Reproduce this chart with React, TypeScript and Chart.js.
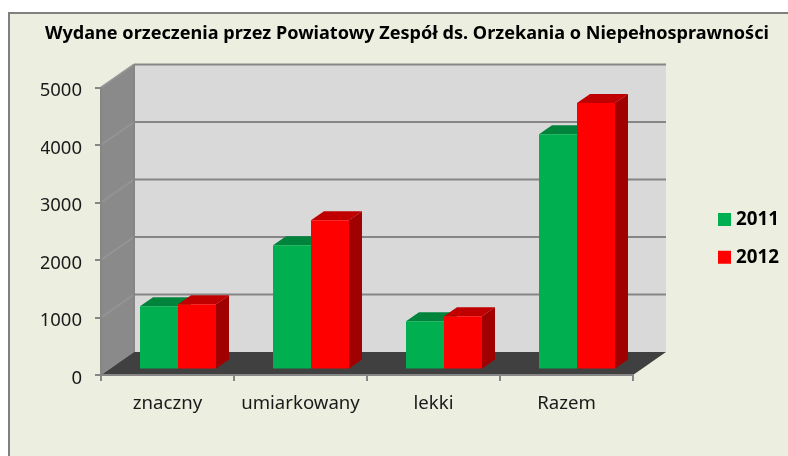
import React, { useEffect, useRef } from "react";
import { Chart, registerables } from "chart.js";

Chart.register(...registerables);

const categories = ["znaczny", "umiarkowany", "lekki", "Razem"];
const seriesNames = ["2011", "2012"];
const values2011 = [1099, 2162, 840, 4092];
const values2012 = [1135, 2597, 927, 4637];
const titleText = "Wydane orzeczenia przez Powiatowy Zespół ds. Orzekania o Niepełnosprawności";

const FRONT = ["#00b050", "#ff0000"];
const TOP = ["#00843c", "#c00000"];
const SIDE = ["#006c32", "#a00000"];
const GRID = "#868686";
const FONT = "'Noto Sans'";

const WALL_DX = 33;
const WALL_DY = -23;
const BAR_SHIFT_X = 10.5;
const BAR_SHIFT_Y = -5.5;
const BAR_DX = 13;
const BAR_DY = -9;

const poly = (ctx: CanvasRenderingContext2D, pts: number[][], fill: string) => {
  ctx.beginPath();
  pts.forEach(([x, y], i) => (i ? ctx.lineTo(x, y) : ctx.moveTo(x, y)));
  ctx.closePath();
  ctx.fillStyle = fill;
  ctx.fill();
};

const scene3d = {
  id: "scene3d",
  afterLayout(chart: any) {
    const t = chart.titleBlock;
    t.left = 45;
    t.right = 788;
    const l = chart.legend;
    l.left = 703.5;
    l.right = 788;
    l.top = 191;
    l.bottom = 300;
  },
  beforeDraw(chart: any) {
    const ctx: CanvasRenderingContext2D = chart.ctx;
    const { left, right, top, bottom } = chart.chartArea;
    const y = chart.scales.y;
    ctx.save();
    ctx.fillStyle = "#ecefdf";
    ctx.fillRect(0, 0, chart.width, chart.height);
    ctx.fillStyle = "#ffffff";
    ctx.fillRect(0, 0, chart.width, 12);
    ctx.fillRect(0, 0, 8, chart.height);
    ctx.fillStyle = "#808080";
    ctx.fillRect(8, 12, chart.width - 8, 2);
    ctx.fillRect(8, 12, 2, chart.height - 12);

    const bx = WALL_DX;
    const by = WALL_DY;
    poly(ctx, [[left + bx, top + by], [right + bx, top + by], [right + bx, bottom + by], [left + bx, bottom + by]], "#d9d9d9");
    poly(ctx, [[left, top], [left + bx, top + by], [left + bx, bottom + by], [left, bottom]], "#8a8a8a");
    poly(ctx, [[left, bottom], [left + bx, bottom + by], [right + bx, bottom + by], [right, bottom]], "#404040");

    ctx.lineWidth = 2;
    for (const tick of y.ticks) {
      const py = y.getPixelForValue(tick.value);
      if (tick.value === 0) continue;
      ctx.strokeStyle = "#949494";
      ctx.beginPath();
      ctx.moveTo(left, py);
      ctx.lineTo(left + bx, py + by);
      ctx.stroke();
      ctx.strokeStyle = GRID;
      ctx.beginPath();
      ctx.moveTo(left + bx, py + by);
      ctx.lineTo(right + bx, py + by);
      ctx.stroke();
    }
    ctx.strokeStyle = GRID;
    ctx.beginPath();
    ctx.moveTo(left + bx, top + by);
    ctx.lineTo(left + bx, bottom + by);
    ctx.stroke();
    ctx.restore();
  },
  beforeDatasetsDraw(chart: any) {
    const ctx: CanvasRenderingContext2D = chart.ctx;
    ctx.save();
    ctx.translate(BAR_SHIFT_X, BAR_SHIFT_Y);
    chart.data.datasets.forEach((_: any, d: number) => {
      chart.getDatasetMeta(d).data.forEach((bar: any) => {
        const { x, y, base, width } = bar.getProps(["x", "y", "base", "width"], true);
        const l = x - width / 2;
        const r = x + width / 2;
        poly(ctx, [[l, y], [l + BAR_DX, y + BAR_DY], [r + BAR_DX, y + BAR_DY], [r, y]], TOP[d]);
        poly(ctx, [[r, y], [r + BAR_DX, y + BAR_DY], [r + BAR_DX, base + BAR_DY], [r, base]], SIDE[d]);
      });
    });
  },
  afterDatasetsDraw(chart: any) {
    chart.ctx.restore();
  },
};

export default function App() {
  const ref = useRef<HTMLCanvasElement>(null);
  useEffect(() => {
    const chart = new Chart(ref.current as HTMLCanvasElement, {
      type: "bar",
      data: {
        labels: categories,
        datasets: [
          { label: seriesNames[0], data: values2011, backgroundColor: FRONT[0], borderWidth: 0, categoryPercentage: 0.5714, barPercentage: 1 },
          { label: seriesNames[1], data: values2012, backgroundColor: FRONT[1], borderWidth: 0, categoryPercentage: 0.5714, barPercentage: 1 },
        ],
      },
      options: {
        responsive: false,
        animation: false,
        layout: { padding: { left: 41, right: 155, top: 0, bottom: 0 } },
        plugins: {
          tooltip: { enabled: false },
          title: {
            display: true,
            text: titleText,
            align: "start",
            color: "#000000",
            font: { family: FONT, size: 18.1, weight: "bold" },
            padding: { top: 23, bottom: 42.8 },
          },
          legend: {
            display: true,
            position: "chartArea",
            align: "start",
            labels: {
              color: "#000000",
              font: { family: FONT, size: 18.8, weight: "bold" },
              boxWidth: 4,
              boxHeight: 4,
              padding: 19,
              generateLabels: (c: any) =>
                c.data.datasets.map((ds: any, i: number) => ({
                  text: ds.label,
                  fillStyle: ds.backgroundColor,
                  strokeStyle: ds.backgroundColor,
                  lineWidth: 9,
                  datasetIndex: i,
                  hidden: false,
                })),
            },
          },
        },
        scales: {
          x: {
            afterFit: (s: any) => { s.height = 81; },
            grid: { drawOnChartArea: false, drawTicks: true, tickLength: 6, color: GRID, lineWidth: 2 },
            border: { display: true, color: GRID, width: 2 },
            ticks: { color: "#1a1a1a", font: { family: FONT, size: 18.6 }, padding: 12, maxRotation: 0, autoSkip: false },
          },
          y: {
            min: 0,
            max: 5000,
            afterFit: (s: any) => { s.width = 60; },
            grid: { drawOnChartArea: false, drawTicks: true, tickLength: 6, color: GRID, lineWidth: 2 },
            border: { display: true, color: GRID, width: 2 },
            ticks: { stepSize: 1000, color: "#1a1a1a", font: { family: FONT, size: 18.5 }, padding: 13, labelOffset: 3.5, callback: (v: any) => String(v) },
          },
        },
      },
      plugins: [scene3d],
    } as any);
    return () => chart.destroy();
  }, []);
  return <canvas ref={ref} width={788} height={456} style={{ position: "absolute", left: 0, top: 0, display: "block" }} />;
}
